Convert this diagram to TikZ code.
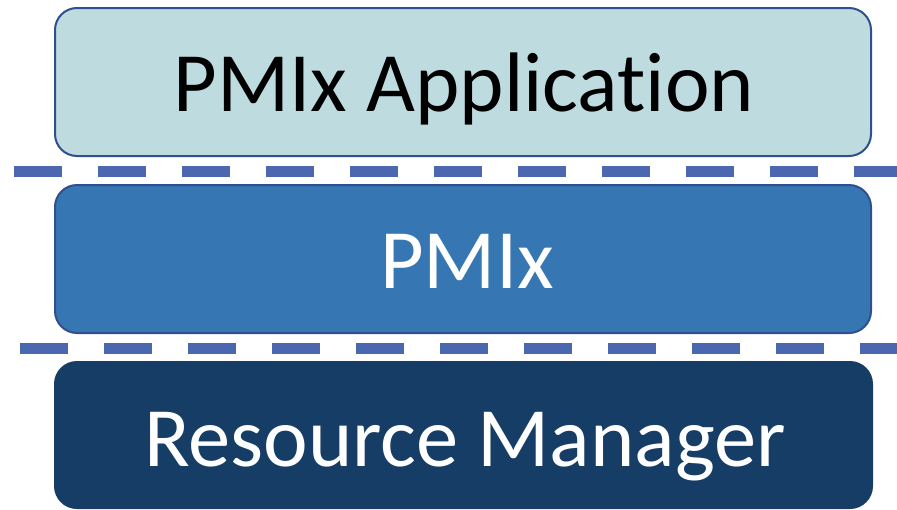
\documentclass[tikz,border=0pt]{standalone}
\usepackage{fontspec}
\setmainfont[Ligatures=NoCommon]{Carlito}
\definecolor{appfill}{HTML}{BEDBDF}
\definecolor{pmixfill}{HTML}{3677B3}
\definecolor{rmfill}{HTML}{163D66}
\definecolor{edge}{HTML}{2F4F8E}
\definecolor{sep}{HTML}{4A67B0}
\tikzset{
  layer/.style={draw=edge, line width=2pt, rounded corners=22pt, inner sep=0pt},
  layertext/.style={anchor=base, inner sep=0pt, font=\fontsize{84.5}{100}\selectfont},
  separator/.style={draw=sep, line width=11pt, dash pattern=on 48pt off 36pt}
}
\begin{document}
\begin{tikzpicture}[x=1pt, y=-1pt]
  \useasboundingbox (0,0) rectangle (897,509);
  % stacked layers
  \path[layer, fill=appfill] (55,8) rectangle (871,156);
  \path[layer, fill=pmixfill] (55,185) rectangle (871,333);
  \path[layer, fill=rmfill, draw=rmfill] (55,362) rectangle (872,508);
  % layer names
  \node[layertext, text=black] (applabel) at (464,111) {PMIx Application};
  \node[layertext, text=white] (pmixlabel) at (467,288) {PMIx};
  \node[layertext, text=white] (rmlabel) at (465,466) {Resource Manager};
  % dashed separators between layers
  \coordinate (s1a) at (14,171);
  \coordinate (s1b) at (897,171);
  \coordinate (s2a) at (20,348.5);
  \coordinate (s2b) at (897,348.5);
  \draw[separator] (s1a) -- (s1b);
  \draw[separator] (s2a) -- (s2b);
\end{tikzpicture}
\end{document}
